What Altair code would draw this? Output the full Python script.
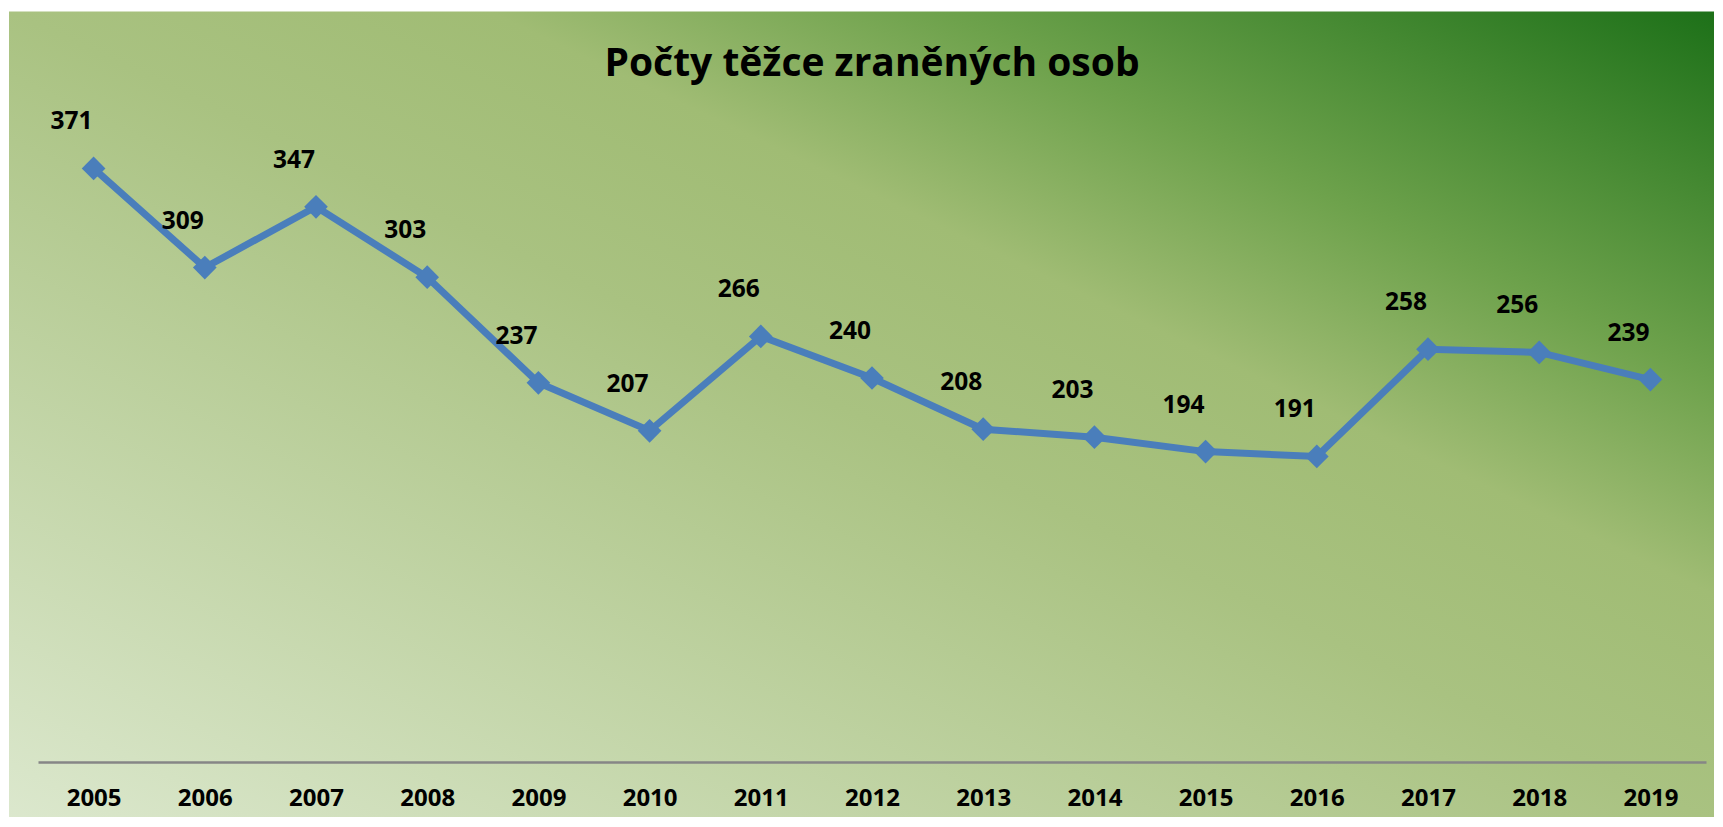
import altair as alt
import pandas as pd

years = ["2005", "2006", "2007", "2008", "2009", "2010", "2011", "2012",
         "2013", "2014", "2015", "2016", "2017", "2018", "2019"]
values = [371, 309, 347, 303, 237, 207, 266, 240, 208, 203, 194, 191, 258, 256, 239]
title_text = "Počty těžce zraněných osob"

df = pd.DataFrame({"year": years, "value": values})

FONT = "Open Sans"
BLUE = "#4A7EBB"
W, H = 1668, 640

xscale = alt.Scale(type="point", padding=0.5, domain=years)
yscale = alt.Scale(domain=[0, 400])

grad = alt.LinearGradient(
    gradient="linear", x1=0, y1=1, x2=1, y2=0,
    stops=[
        alt.GradientStop(offset=0.0, color="#DCE8CE"),
        alt.GradientStop(offset=0.5, color="#A9C281"),
        alt.GradientStop(offset=0.64, color="#A0BC74"),
        alt.GradientStop(offset=0.77, color="#6EA24C"),
        alt.GradientStop(offset=1.0, color="#1C7018"),
    ],
)

bg = alt.Chart(pd.DataFrame({"k": [0]})).mark_rect(color=grad).encode(
    x=alt.value(-29), x2=alt.value(1685),
    y=alt.value(-110.6), y2=alt.value(705.4),
)

title = alt.Chart(pd.DataFrame({"t": [title_text]})).mark_text(
    font=FONT, fontSize=39, fontWeight="bold", color="black",
    align="center", baseline="middle",
).encode(text="t:N", x=alt.value(W / 2), y=alt.value(64 - 121.6))

base = alt.Chart(df).encode(
    x=alt.X("year:O", scale=xscale, sort=years,
            axis=alt.Axis(title=None, labelAngle=0, ticks=False, grid=False,
                          domainColor="#868686", domainWidth=2.5, zindex=1,
                          labelFont=FONT, labelFontSize=24, labelFontWeight="bold",
                          labelColor="black", labelPadding=36,
                          labelBaseline="middle")),
    y=alt.Y("value:Q", scale=yscale, axis=None),
)

line = base.mark_line(color=BLUE, strokeWidth=7)
pts = base.mark_point(shape="diamond", filled=True, size=560, color=BLUE, opacity=1)
labels = base.mark_text(font=FONT, fontSize=24.5, fontWeight="bold", color="black",
                        dx=-22, dy=-46, baseline="middle").encode(text="value:Q")

chart = alt.layer(bg, title, line, pts, labels).properties(
    width=W, height=H,
    autosize=alt.AutoSizeParams(type="none"),
    padding={"left": 30, "top": 114, "right": 8, "bottom": 55},
).configure_view(stroke=None).configure(background="white")

chart.save("out.html", embed_options={"renderer": "svg", "actions": False})
